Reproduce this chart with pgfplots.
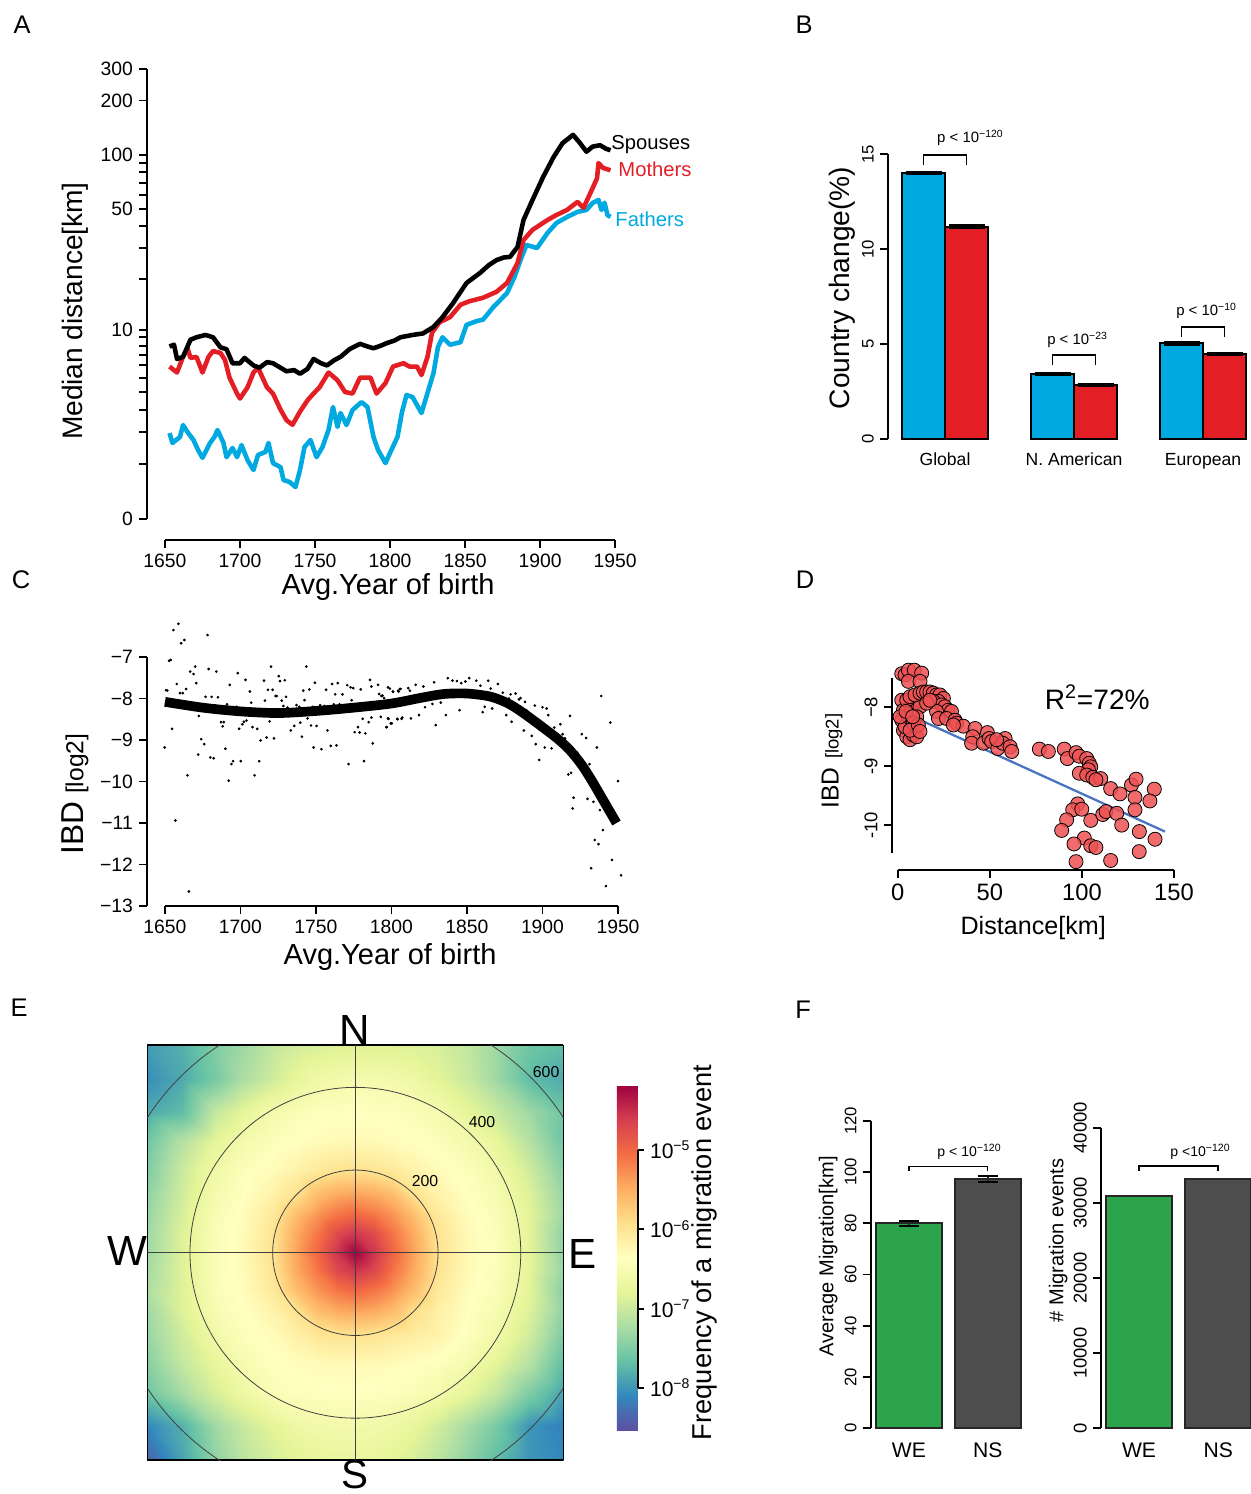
\documentclass[border=0pt]{standalone}
\usepackage{fontspec}
\setmainfont{Liberation Sans}
\usepackage{pgfplots}
\pgfplotsset{compat=1.18}

\definecolor{cblue}{HTML}{00A9E0}
\definecolor{cred}{HTML}{E31E24}
\definecolor{dred}{HTML}{EE5153}
\definecolor{lblue}{HTML}{4A74C0}
\definecolor{fgreen}{HTML}{2BA44B}
\definecolor{fgray}{HTML}{4D4D4D}

\newcommand{\fs}[1]{\fontsize{#1}{#1}\selectfont}

\pgfplotsset{
  rplot/.style={scale only axis, anchor=south west, clip=false,
    tick align=outside, axis line style={line width=1.3pt, -},
    tick style={black, line width=1.1pt}, major tick length=0.16cm,
    minor tick length=0.16cm,
    /pgf/number format/assume math mode=true,
    /pgf/number format/1000 sep={},
    axis x line*=bottom, axis y line*=left},
  colormap={spectral}{rgb255=(94,79,162) rgb255=(50,136,189) rgb255=(102,194,165)
    rgb255=(171,221,164) rgb255=(230,245,152) rgb255=(255,255,191) rgb255=(254,224,139)
    rgb255=(253,174,97) rgb255=(244,109,67) rgb255=(213,62,79) rgb255=(158,1,66)},
}

\begin{document}
\begin{tikzpicture}
\useasboundingbox (0,0) rectangle (25,-29.88);

% ---------------- A: median distance
\begin{axis}[rplot, at={(2.94cm,-10.8cm)}, width=9.36cm, height=9.428cm,
  xmin=1638, xmax=1950, ymin=-0.1156, ymax=2.4786,
  x axis line style={shorten <=0.36cm}, y axis line style={shorten <=0.42cm},
  xtick={1650,1700,...,1950},
  ytick={0,1.0414,1.7076,2.0043,2.3032,2.4786}, yticklabels={0,10,50,100,200,300},
  minor ytick={0.3010,0.4771,0.6021,0.6990,0.7782,0.8451,0.9031,0.9542,1.0,1.3222,1.4914,1.6128,1.7853,1.8513,1.9085,1.9590},
  tick label style={font=\fs{11}},
  every axis plot/.append style={line width=2.6pt, line join=round}]
\addplot[cblue] table[x=yr, y expr={log10(\thisrow{km}+1)}] {
yr km
1653 1.97
1655 1.62
1660 1.83
1662 2.29
1665 2.01
1669 1.72
1672 1.40
1675 1.17
1680 1.62
1683 1.83
1685 2.09
1689 1.62
1691 1.19
1695 1.46
1698 1.19
1701 1.55
1705 1.11
1709 0.86
1712 1.25
1717 1.34
1719 1.62
1722 1.03
1727 0.93
1729 0.64
1733 0.60
1737 0.50
1740 0.86
1743 1.49
1747 1.72
1751 1.19
1755 1.49
1759 2.09
1762 3.13
1765 2.21
1767 2.83
1771 2.29
1775 2.98
1781 3.40
1785 3.13
1789 1.83
1792 1.40
1797 1.03
1800 1.31
1805 1.83
1808 2.88
1811 3.81
1815 3.69
1821 2.83
1825 3.94
1829 5.36
1832 7.85
1835 9.0
1840 8.1
1847 8.4
1851 10.7
1858 11.3
1862 11.5
1869 13.7
1878 16.5
1883 20.5
1887 25.6
1891 31.2
1898 30.0
1905 36.5
1911 41.6
1918 44.9
1925 48.0
1931 49.2
1935 53.8
1939 56.0
1941 49.2
1943 54.0
1945 46.0
1947 45.0
};
\addplot[cred] table[x=yr, y expr={log10(\thisrow{km}+1)}] {
yr km
1653 5.9
1658 5.4
1662 6.8
1665 7.7
1667 6.7
1671 6.8
1675 5.4
1679 6.8
1682 7.4
1687 7.2
1690 6.5
1693 5.0
1698 3.9
1700 3.6
1705 4.3
1709 5.4
1712 5.8
1718 4.3
1722 3.9
1727 3.0
1731 2.5
1735 2.3
1740 2.9
1745 3.5
1749 3.9
1753 4.3
1759 5.4
1765 4.8
1770 4.0
1775 3.9
1780 5.0
1787 5.0
1791 3.9
1797 4.6
1802 5.9
1809 6.2
1813 5.9
1818 5.9
1821 5.2
1825 6.8
1828 9.6
1833 11.1
1840 11.9
1847 14.1
1853 14.8
1862 15.5
1871 16.8
1878 18.9
1885 24.6
1889 33.3
1895 38.0
1905 43.2
1911 46.1
1918 49.2
1925 54.6
1929 50.5
1935 65.0
1938 74.0
1939 90.0
1942 84.5
1947 82.0
};
\addplot[black] table[x=yr, y expr={log10(\thisrow{km}+1)}] {
yr km
1653 7.9
1656 8.1
1658 6.6
1662 6.8
1667 8.7
1671 9.0
1677 9.3
1682 9.0
1687 7.8
1691 7.6
1695 6.2
1700 6.2
1703 6.7
1709 6.0
1713 5.8
1718 6.3
1722 6.2
1727 5.8
1731 5.5
1736 5.6
1740 5.3
1745 5.7
1749 6.6
1754 6.2
1758 6.0
1763 6.5
1767 6.8
1773 7.6
1780 8.2
1785 7.9
1789 7.7
1794 8.0
1798 8.3
1803 8.6
1807 9.0
1815 9.3
1822 9.5
1829 10.4
1835 11.9
1842 14.4
1851 18.9
1860 21.6
1866 24.0
1871 25.6
1876 26.5
1880 26.7
1885 30.4
1889 43.2
1895 56
1902 75
1909 97
1915 116
1922 129
1926 118
1931 104
1935 111
1940 113
1944 108
1947 106
};
\end{axis}

% ---------------- B: country change
\begin{axis}[rplot, at={(17.76cm,-8.78cm)}, width=7.246cm, height=5.7cm,
  xmin=-0.326, xmax=8.1, ymin=0, ymax=15,
  x axis line style={draw=none}, xtick style={draw=none},
  xtick={1,4,7}, xticklabels={Global,N. American,European},
  xticklabel style={font=\fs{10}},
  ytick={0,5,10,15}, yticklabel style={font=\fs{9.5}, rotate=90, anchor=south}]
\addplot[ybar, bar width=1, bar shift=0pt, fill=cblue, draw=black, line width=0.9pt,
  error bars/.cd, y dir=both, y explicit, error mark=|,
  error bar style={line width=1.6pt}, error mark options={mark size=0.36cm, line width=1.8pt}]
  coordinates {(0.5,14.0) +- (0,0.04) (3.5,3.42) +- (0,0.04) (6.5,5.04) +- (0,0.04)};
\addplot[ybar, bar width=1, bar shift=0pt, fill=cred, draw=black, line width=0.9pt,
  error bars/.cd, y dir=both, y explicit, error mark=|,
  error bar style={line width=1.6pt}, error mark options={mark size=0.36cm, line width=1.8pt}]
  coordinates {(1.5,11.17) +- (0,0.04) (4.5,2.84) +- (0,0.04) (7.5,4.47) +- (0,0.04)};
\draw[line width=0.9pt] (axis cs:0.5,14.42) -- (axis cs:0.5,14.95) -- (axis cs:1.5,14.95) -- (axis cs:1.5,14.42);
\draw[line width=0.9pt] (axis cs:3.5,3.89) -- (axis cs:3.5,4.42) -- (axis cs:4.5,4.42) -- (axis cs:4.5,3.89);
\draw[line width=0.9pt] (axis cs:6.5,5.37) -- (axis cs:6.5,5.89) -- (axis cs:7.5,5.89) -- (axis cs:7.5,5.37);
\node[anchor=west, font=\fs{8.5}, inner sep=0pt] at (axis cs:0.81,15.85) {p < 10\textsuperscript{−120}};
\node[anchor=west, font=\fs{8.5}, inner sep=0pt] at (axis cs:3.37,5.2) {p < 10\textsuperscript{−23}};
\node[anchor=west, font=\fs{8.5}, inner sep=0pt] at (axis cs:6.37,6.75) {p < 10\textsuperscript{−10}};
\end{axis}

% ---------------- C: IBD over time
\begin{axis}[rplot, at={(2.94cm,-18.12cm)}, width=9.42cm, height=4.98cm,
  xmin=1638.1, xmax=1950, ymin=-13, ymax=-7,
  x axis line style={shorten <=0.36cm},
  xtick={1650,1700,...,1950}, ytick={-13,-12,...,-7},
  yticklabels={−13,−12,−11,−10,−9,−8,−7},
  tick label style={font=\fs{11}}]
\addplot[only marks, mark=*, mark size=0.55pt, black] coordinates {
(1658.9,-6.20) (1655.6,-6.35) (1678.2,-6.47) (1660.7,-6.67) (1662.9,-6.59) (1652.7,-7.09)
(1653.8,-7.07) (1666.7,-7.35) (1668.9,-7.41) (1670.0,-7.23) (1678.9,-7.29) (1684.0,-7.35)
(1698.2,-7.39) (1657.8,-7.65) (1660.0,-7.87) (1661.8,-7.87) (1664.0,-7.77) (1670.7,-7.63)
(1650.7,-7.80) (1651.6,-7.81) (1676.9,-7.96) (1680.9,-7.96) (1685.1,-7.97) (1692.9,-7.67)
(1703.3,-7.55) (1706.2,-7.83) (1707.1,-8.10) (1691.1,-8.14) (1697.3,-8.20) (1715.6,-7.57)
(1718.2,-7.79) (1721.3,-7.79) (1716.2,-8.05) (1720.2,-7.23) (1725.3,-7.46) (1726.2,-7.58)
(1729.3,-7.56) (1723.3,-7.94) (1724.0,-7.94) (1727.3,-8.05) (1730.2,-7.96) (1728.4,-8.18)
(1731.1,-8.22) (1743.6,-7.23) (1741.6,-7.81) (1745.6,-7.78) (1749.3,-7.62) (1742.4,-8.04)
(1737.1,-8.16) (1738.9,-8.20) (1744.4,-8.48) (1756.7,-7.79) (1760.7,-7.65) (1764.4,-7.63)
(1762.7,-7.90) (1767.6,-7.90) (1747.8,-8.20) (1752.7,-8.16) (1755.6,-8.18) (1761.8,-8.14)
(1765.6,-8.14) (1770.7,-7.68) (1772.9,-7.73) (1774.7,-7.75) (1779.6,-7.78) (1773.6,-8.04)
(1785.8,-7.55) (1786.7,-7.71) (1791.1,-7.67) (1791.8,-7.89) (1794.0,-7.93) (1795.1,-7.99)
(1798.9,-7.76) (1800.9,-7.83) (1804.7,-7.83) (1806.0,-7.77) (1672.4,-8.42) (1654.7,-8.73)
(1649.8,-9.18) (1674.0,-8.98) (1676.0,-9.10) (1687.1,-8.57) (1688.9,-8.57) (1688.2,-8.67)
(1672.0,-9.35) (1680.0,-9.42) (1682.2,-9.44) (1690.0,-9.21) (1699.1,-8.73) (1701.3,-8.62)
(1704.0,-8.53) (1702.2,-8.56) (1708.0,-8.69) (1711.1,-8.73) (1713.3,-9.01) (1717.3,-8.94)
(1719.3,-8.55) (1722.2,-8.96) (1694.0,-9.58) (1695.1,-9.51) (1700.2,-9.51) (1712.4,-9.51)
(1692.2,-9.98) (1709.3,-9.85) (1664.9,-9.85) (1656.9,-10.94) (1665.8,-12.65) (1733.3,-8.77)
(1735.6,-8.66) (1739.6,-8.58) (1740.7,-8.92) (1746.7,-8.65) (1750.4,-8.66) (1748.4,-9.18)
(1753.6,-9.22) (1757.6,-8.77) (1759.8,-9.14) (1763.6,-9.13) (1771.6,-9.58) (1775.6,-8.81)
(1777.8,-8.69) (1778.9,-8.82) (1782.7,-8.84) (1784.9,-8.57) (1787.6,-9.08) (1781.8,-9.51)
(1780.9,-8.49) (1786.7,-8.46) (1792.9,-8.44) (1796.9,-8.69) (1798.0,-8.49) (1800.2,-8.60)
(1803.8,-8.49) (1806.7,-8.49)
(1793.3,-7.94) (1797.7,-7.73) (1801.1,-7.84) (1804.4,-7.81) (1805.5,-7.77) (1811.1,-7.75)
(1812.2,-7.81) (1816.0,-7.67) (1821.1,-7.71) (1828.2,-7.61) (1837.3,-7.51) (1840.4,-7.57)
(1843.3,-7.58) (1846.2,-7.63) (1848.9,-7.59) (1851.5,-7.51) (1856.2,-7.57) (1858.9,-7.69)
(1864.0,-7.57) (1865.7,-7.76) (1870.4,-7.65) (1873.7,-7.86) (1878.9,-7.90) (1882.2,-7.88)
(1884.4,-8.02) (1885.5,-7.99) (1888.4,-8.08) (1877.8,-8.00) (1881.1,-8.12) (1797.7,-8.48)
(1804.0,-8.50) (1807.1,-8.46) (1812.9,-8.48) (1818.2,-8.40) (1822.2,-8.21) (1827.1,-8.13)
(1832.6,-8.10) (1836.0,-8.40) (1845.1,-8.28) (1796.6,-8.69) (1799.5,-8.60) (1829.3,-8.64)
(1860.4,-8.33) (1861.7,-8.20) (1866.6,-8.24) (1876.0,-8.40) (1879.5,-8.56) (1889.3,-8.28)
(1890.4,-8.32) (1894.9,-8.17) (1900.0,-8.21) (1902.7,-8.24) (1903.8,-8.40) (1907.8,-8.70)
(1904.4,-8.72) (1911.8,-8.62) (1913.3,-8.86) (1914.9,-8.96) (1918.2,-8.42) (1887.7,-8.77)
(1892.9,-8.90) (1895.5,-9.10) (1897.8,-9.48) (1901.5,-9.18) (1906.0,-9.20) (1922.2,-9.30)
(1922.9,-9.30) (1926.0,-8.86) (1928.9,-8.95) (1925.1,-9.52) (1931.1,-9.58) (1936.0,-9.18)
(1917.1,-9.83) (1918.9,-9.79) (1938.9,-7.94) (1944.9,-8.58) (1950.0,-9.99) (1920.6,-10.39)
(1920.0,-10.65) (1929.8,-10.42) (1933.7,-10.49) (1938.0,-10.69) (1940.0,-11.17) (1934.6,-11.41)
(1937.1,-11.51) (1932.2,-12.09) (1946.0,-11.89) (1942.0,-12.52) (1952.0,-12.26)
};
\addplot[black, line width=5.5pt, smooth] coordinates {
(1650,-8.08) (1675,-8.22) (1700,-8.31) (1725,-8.35) (1750,-8.30) (1775,-8.22) (1800,-8.12)
(1820,-7.98) (1835,-7.89) (1850,-7.88) (1865,-7.95) (1875,-8.08) (1882,-8.22) (1890,-8.42)
(1900,-8.69) (1910,-8.97) (1918,-9.24) (1926,-9.60) (1933,-10.00) (1941,-10.50) (1949,-11.00)
};
\end{axis}

% ---------------- D: IBD vs distance
\begin{axis}[rplot, at={(17.834cm,-17.4cm)}, width=5.646cm, height=3.834cm,
  xmin=-3.26, xmax=150, ymin=-10.762, ymax=-7.508,
  x axis line style={shorten <=0.12cm}, y axis line style={shorten <=0.334cm},
  xtick={0,50,100,150}, xticklabel style={font=\fs{13.5}},
  ytick={-10,-9,-8}, yticklabels={-10,-9,−8},
  yticklabel style={font=\fs{10.5}, rotate=90, anchor=south}]
\addplot[only marks, mark=*, mark size=4pt,
  mark options={fill=dred, fill opacity=0.85, draw=black, line width=0.45pt}] coordinates {
(2.2,-7.43) (4.0,-7.45) (5.8,-7.37) (9.0,-7.37) (13.0,-7.42) (5.8,-7.56) (12.1,-7.56)
(2.2,-7.88) (3.1,-8.05) (2.2,-8.22) (3.1,-8.39) (4.9,-8.50) (6.7,-8.55) (8.5,-8.47)
(10.3,-8.50) (4.0,-8.33) (5.8,-8.16) (7.6,-8.05) (9.4,-7.93) (11.2,-7.88) (12.1,-7.99)
(10.3,-8.16) (8.5,-8.27) (6.7,-8.39) (4.9,-7.88) (6.7,-7.82) (9.4,-7.79) (12.1,-7.76)
(1.3,-8.16) (11.2,-8.30) (12.1,-8.41) (4.5,-8.07) (8.1,-8.16)
(13.9,-7.74) (15.7,-7.74) (17.5,-7.74) (19.3,-7.76) (21.1,-7.79) (22.9,-7.79) (24.8,-7.85)
(22.1,-7.90) (19.3,-7.90) (23.8,-7.96) (25.6,-7.99) (27.4,-8.05) (29.2,-8.07) (21.1,-8.07)
(22.1,-8.19) (26.5,-8.19) (31.1,-8.22) (32.0,-8.27) (35.6,-8.32) (30.2,-8.30) (15.7,-7.93)
(17.5,-7.88)
(42.0,-8.36) (40.7,-8.50) (40.1,-8.61) (46.5,-8.61) (48.7,-8.43) (49.6,-8.53) (51.0,-8.58)
(54.3,-8.70) (58.3,-8.53) (57.0,-8.61) (61.0,-8.67) (61.9,-8.75) (53.7,-8.55)
(76.9,-8.71) (81.8,-8.75) (90.4,-8.71) (92.1,-8.87) (96.8,-8.77) (98.6,-8.83) (102.6,-8.87)
(104.0,-8.95) (104.8,-9.01) (103.5,-9.06) (98.6,-9.12) (102.6,-9.15) (105.9,-9.19)
(110.2,-9.21) (107.6,-9.23)
(126.9,-9.32) (129.4,-9.22) (115.6,-9.38) (120.7,-9.47) (139.3,-9.39) (136.9,-9.59)
(128.8,-9.53) (128.8,-9.74) (131.2,-10.11) (131.1,-10.45) (139.7,-10.24)
(97.7,-9.64) (95.0,-9.74) (99.9,-9.73) (91.7,-9.91) (89.0,-10.09) (104.8,-9.92) (111.3,-9.82)
(113.1,-9.77) (118.9,-9.80) (121.6,-10.00) (101.3,-10.22) (104.8,-10.35) (107.6,-10.38)
(95.7,-10.32) (96.8,-10.62) (115.6,-10.60)
};
\addplot[lblue, line width=1.3pt] coordinates {(1.3,-8.06) (145.1,-10.11)};
\end{axis}

% ---------------- E: migration heat map
\begin{axis}[at={(2.946cm,-29.2cm)}, anchor=south west, scale only axis,
  width=8.32cm, height=8.3cm, view={0}{90},
  xmin=-503, xmax=503, ymin=-503, ymax=503,
  xtick=\empty, ytick=\empty, ztick=\empty, axis line style={line width=0.9pt},
  colormap name=spectral, point meta min=-8.53, point meta max=-4.18,
  colorbar,
  colorbar style={at={(parent axis.south east)}, anchor=south west,
    xshift=0.77cm, yshift=0.6cm, scale only axis, width=0.42cm, height=6.9cm,
    axis line style={draw=none}, ytick={-8,-7,-6,-5}, ytick pos=right,
    yticklabels={10\textsuperscript{−8},10\textsuperscript{−7},10\textsuperscript{−6},10\textsuperscript{−5}},
    yticklabel style={font=\fs{12}}, tick align=outside, major tick length=0.12cm,
    ytick style={black, line width=1.1pt},
    after end axis/.code={\draw[line width=1.1pt] (rel axis cs:1,0.1218) -- (rel axis cs:1,0.8115);}}]
\addplot3[surf, shader=interp] coordinates {
(-503,-503,-8.40) (-420,-503,-7.90) (-340,-503,-7.40) (-270,-503,-7.10) (-200,-503,-6.90) (-140,-503,-6.80) (-90,-503,-6.75) (-45,-503,-6.72) (0,-503,-6.72) (45,-503,-6.75) (90,-503,-6.80) (140,-503,-6.90) (200,-503,-7.10) (270,-503,-7.40) (340,-503,-7.70) (420,-503,-8.00) (503,-503,-8.10)

(-503,-420,-8.10) (-420,-420,-7.80) (-340,-420,-7.30) (-270,-420,-7.00) (-200,-420,-6.80) (-140,-420,-6.65) (-90,-420,-6.60) (-45,-420,-6.58) (0,-420,-6.58) (45,-420,-6.60) (90,-420,-6.65) (140,-420,-6.75) (200,-420,-6.95) (270,-420,-7.25) (340,-420,-7.55) (420,-420,-8.00) (503,-420,-8.15)

(-503,-340,-7.60) (-420,-340,-7.25) (-340,-340,-6.90) (-270,-340,-6.65) (-200,-340,-6.45) (-140,-340,-6.40) (-90,-340,-6.38) (-45,-340,-6.37) (0,-340,-6.37) (45,-340,-6.38) (90,-340,-6.40) (140,-340,-6.45) (200,-340,-6.55) (270,-340,-6.76) (340,-340,-7.05) (420,-340,-7.50) (503,-340,-7.90)

(-503,-270,-7.45) (-420,-270,-7.05) (-340,-270,-6.75) (-270,-270,-6.52) (-200,-270,-6.38) (-140,-270,-6.33) (-90,-270,-6.30) (-45,-270,-6.28) (0,-270,-6.27) (45,-270,-6.28) (90,-270,-6.31) (140,-270,-6.35) (200,-270,-6.41) (270,-270,-6.56) (340,-270,-6.80) (420,-270,-7.15) (503,-270,-7.70)

(-503,-200,-7.35) (-420,-200,-6.95) (-340,-200,-6.60) (-270,-200,-6.41) (-200,-200,-6.30) (-140,-200,-6.15) (-90,-200,-6.00) (-45,-200,-5.98) (0,-200,-5.95) (45,-200,-5.98) (90,-200,-6.05) (140,-200,-6.10) (200,-200,-6.20) (270,-200,-6.38) (340,-200,-6.60) (420,-200,-6.95) (503,-200,-7.50)

(-503,-140,-7.30) (-420,-140,-6.85) (-340,-140,-6.50) (-270,-140,-6.35) (-200,-140,-6.18) (-140,-140,-5.93) (-90,-140,-5.60) (-45,-140,-5.45) (0,-140,-5.40) (45,-140,-5.45) (90,-140,-5.60) (140,-140,-5.90) (200,-140,-6.15) (270,-140,-6.35) (340,-140,-6.51) (420,-140,-6.85) (503,-140,-7.40)

(-503,-90,-7.20) (-420,-90,-6.85) (-340,-90,-6.46) (-270,-90,-6.31) (-200,-90,-6.05) (-140,-90,-5.60) (-90,-90,-5.30) (-45,-90,-5.10) (0,-90,-4.98) (45,-90,-5.10) (90,-90,-5.30) (140,-90,-5.60) (200,-90,-6.05) (270,-90,-6.31) (340,-90,-6.46) (420,-90,-6.80) (503,-90,-7.45)

(-503,-45,-7.25) (-420,-45,-6.85) (-340,-45,-6.45) (-270,-45,-6.29) (-200,-45,-5.98) (-140,-45,-5.45) (-90,-45,-5.10) (-45,-45,-4.72) (0,-45,-4.55) (45,-45,-4.72) (90,-45,-5.10) (140,-45,-5.45) (200,-45,-5.98) (270,-45,-6.28) (340,-45,-6.43) (420,-45,-6.80) (503,-45,-7.35)

(-503,0,-7.30) (-420,0,-6.85) (-340,0,-6.45) (-270,0,-6.28) (-200,0,-5.95) (-140,0,-5.40) (-90,0,-4.98) (-45,0,-4.55) (0,0,-4.20) (45,0,-4.55) (90,0,-4.98) (140,0,-5.40) (200,0,-5.95) (270,0,-6.27) (340,0,-6.42) (420,0,-6.80) (503,0,-7.40)

(-503,45,-7.30) (-420,45,-6.85) (-340,45,-6.45) (-270,45,-6.29) (-200,45,-5.98) (-140,45,-5.45) (-90,45,-5.10) (-45,45,-4.72) (0,45,-4.55) (45,45,-4.72) (90,45,-5.10) (140,45,-5.45) (200,45,-5.98) (270,45,-6.28) (340,45,-6.43) (420,45,-6.80) (503,45,-7.40)

(-503,90,-7.35) (-420,90,-6.90) (-340,90,-6.48) (-270,90,-6.31) (-200,90,-6.05) (-140,90,-5.60) (-90,90,-5.30) (-45,90,-5.10) (0,90,-4.98) (45,90,-5.10) (90,90,-5.30) (140,90,-5.60) (200,90,-6.05) (270,90,-6.31) (340,90,-6.46) (420,90,-6.80) (503,90,-7.30)

(-503,140,-7.40) (-420,140,-6.95) (-340,140,-6.55) (-270,140,-6.35) (-200,140,-6.18) (-140,140,-5.93) (-90,140,-5.60) (-45,140,-5.45) (0,140,-5.40) (45,140,-5.45) (90,140,-5.60) (140,140,-5.93) (200,140,-6.18) (270,140,-6.35) (340,140,-6.51) (420,140,-6.85) (503,140,-7.35)

(-503,200,-7.50) (-420,200,-7.00) (-340,200,-6.62) (-270,200,-6.41) (-200,200,-6.30) (-140,200,-6.18) (-90,200,-6.05) (-45,200,-5.98) (0,200,-5.95) (45,200,-5.98) (90,200,-6.05) (140,200,-6.18) (200,200,-6.30) (270,200,-6.41) (340,200,-6.60) (420,200,-6.95) (503,200,-7.45)

(-503,270,-7.60) (-420,270,-7.15) (-340,270,-6.78) (-270,270,-6.56) (-200,270,-6.41) (-140,270,-6.35) (-90,270,-6.31) (-45,270,-6.28) (0,270,-6.27) (45,270,-6.28) (90,270,-6.31) (140,270,-6.35) (200,270,-6.41) (270,270,-6.56) (340,270,-6.76) (420,270,-7.15) (503,270,-7.60)

(-503,340,-7.85) (-420,340,-7.70) (-340,340,-7.05) (-270,340,-6.76) (-200,340,-6.55) (-140,340,-6.45) (-90,340,-6.40) (-45,340,-6.38) (0,340,-6.37) (45,340,-6.38) (90,340,-6.40) (140,340,-6.45) (200,340,-6.55) (270,340,-6.76) (340,340,-7.00) (420,340,-7.30) (503,340,-7.60)

(-503,420,-8.05) (-420,420,-7.85) (-340,420,-7.55) (-270,420,-7.20) (-200,420,-6.95) (-140,420,-6.75) (-90,420,-6.62) (-45,420,-6.58) (0,420,-6.55) (45,420,-6.55) (90,420,-6.58) (140,420,-6.65) (200,420,-6.80) (270,420,-7.00) (340,420,-7.30) (420,420,-7.70) (503,420,-7.85)

(-503,503,-7.95) (-420,503,-7.80) (-340,503,-7.50) (-270,503,-7.30) (-200,503,-7.05) (-140,503,-6.95) (-90,503,-6.90) (-45,503,-6.85) (0,503,-6.85) (45,503,-6.85) (90,503,-6.85) (140,503,-6.85) (200,503,-6.90) (270,503,-7.05) (340,503,-7.30) (420,503,-7.60) (503,503,-7.70)
};
\end{axis}

% ---------------- F: average migration
\begin{axis}[rplot, at={(17.414cm,-28.566cm)}, width=3.036cm, height=6.152cm,
  xmin=0.119, xmax=2.43, ymin=0, ymax=120,
  x axis line style={draw=none}, xtick style={draw=none},
  xtick={0.7,1.9}, xticklabels={WE,NS}, xticklabel style={font=\fs{12}},
  ytick={0,20,...,120}, yticklabel style={font=\fs{9.5}, rotate=90, anchor=south}]
\addplot[ybar, bar width=1, bar shift=0pt, fill=fgreen, draw=black!85, line width=1.1pt,
  error bars/.cd, y dir=both, y explicit, error mark=|,
  error bar style={line width=1pt}, error mark options={mark size=0.2cm, line width=1pt}]
  coordinates {(0.7,80.0) +- (0,1.0)};
\addplot[ybar, bar width=1, bar shift=0pt, fill=fgray, draw=black!85, line width=1.1pt,
  error bars/.cd, y dir=both, y explicit, error mark=|,
  error bar style={line width=1pt}, error mark options={mark size=0.2cm, line width=1pt}]
  coordinates {(1.9,97.3) +- (0,1.2)};
\draw[line width=0.9pt] (axis cs:0.7,100.4) -- (axis cs:0.7,102.1) -- (axis cs:1.9,102.1) -- (axis cs:1.9,100.4);
\node[anchor=west, font=\fs{8}, inner sep=0pt] at (axis cs:1.13,107.8) {p < 10\textsuperscript{−120}};
\end{axis}

% ---------------- F: number of migration events
\begin{axis}[rplot, at={(22.02cm,-28.566cm)}, width=2.99cm, height=6.012cm,
  xmin=0.124, xmax=2.39, ymin=0, ymax=40000, scaled y ticks=false,
  x axis line style={draw=none}, xtick style={draw=none},
  xtick={0.7,1.9}, xticklabels={WE,NS}, xticklabel style={font=\fs{12}},
  ytick={0,10000,...,40000}, yticklabel style={font=\fs{10.5}, rotate=90, anchor=south}]
\addplot[ybar, bar width=1, bar shift=0pt, fill=fgreen, draw=black!85, line width=1.1pt]
  coordinates {(0.7,30900)};
\addplot[ybar, bar width=1, bar shift=0pt, fill=fgray, draw=black!85, line width=1.1pt]
  coordinates {(1.9,33170)};
\draw[line width=0.9pt] (axis cs:0.7,34239) -- (axis cs:0.7,34944) -- (axis cs:1.9,34944) -- (axis cs:1.9,34239);
\node[anchor=west, font=\fs{8}, inner sep=0pt] at (axis cs:1.17,36767) {p <10\textsuperscript{−120}};
\end{axis}

% ---------------- circles over the heat map
\begin{scope}[x=0.02cm, y=-0.02cm]
  \clip (147.3,1045) rectangle (563.3,1460);
  \draw[black!75, line width=0.45pt] (147.3,1252.5) -- (563.3,1252.5);
  \draw[black!75, line width=0.45pt] (355.3,1045) -- (355.3,1460);
  \draw[black!75, line width=0.45pt] (355.3,1252.5) circle[radius=1.654cm];
  \draw[black!75, line width=0.45pt] (355.3,1252.5) circle[radius=3.308cm];
  \draw[black!75, line width=0.45pt] (355.3,1252.5) circle[radius=4.962cm];
\end{scope}

% ---------------- texts
\begin{scope}[x=0.02cm, y=-0.02cm]
  \node[font=\fs{14.5}] at (22,25) {A};
  \node[font=\fs{14.5}] at (804,25) {B};
  \node[font=\fs{14.5}] at (21,580) {C};
  \node[font=\fs{14.5}] at (805,580) {D};
  \node[font=\fs{14.5}] at (19,1008) {E};
  \node[font=\fs{14.5}] at (803,1010) {F};

  \node[rotate=90, font=\fs{16}] at (75,311) {Median distance[km]};
  \node[font=\fs{16.5}] at (388,587) {Avg.Year of birth};
  \node[anchor=west, font=\fs{11.5}, inner sep=0pt] at (611,145) {Spouses};
  \node[anchor=west, font=\fs{11.5}, inner sep=0pt, text=cred] at (618,169) {Mothers};
  \node[anchor=west, font=\fs{11.5}, inner sep=0pt, text=cblue] at (615,219) {Fathers};

  \node[rotate=90, font=\fs{16}] at (842,288) {Country change(\%)};

  \node[rotate=90] at (75,794) {{\fs{18}IBD}\hspace{0.45em}{\fs{14}[log2]}};
  \node[font=\fs{16.5}] at (390,957) {Avg.Year of birth};

  \node[rotate=90] at (832,761) {{\fs{14}IBD}\hspace{0.5em}{\fs{10.5}[log2]}};
  \node[font=\fs{14.3}] at (1033,928) {Distance[km]};
  \node[font=\fs{16}] at (1097,697) {R\textsuperscript{2}=72\%};

  \node[font=\fs{24}] at (355,1030) {N};
  \node[font=\fs{23}] at (355,1474) {S};
  \node[font=\fs{24}] at (127,1251) {W};
  \node[font=\fs{24}] at (582,1254) {E};
  \node[font=\fs{9}] at (425,1181) {200};
  \node[font=\fs{9}] at (482,1122) {400};
  \node[font=\fs{9}] at (546,1072) {600};
  \node[rotate=90, font=\fs{15.5}] at (704,1252) {Frequency of a migration event};

  \node[rotate=90, font=\fs{11.4}] at (828,1256) {Average Migration[km]};
  \node[rotate=90, font=\fs{11.4}] at (1058,1240) {\# Migration events};
\end{scope}
\end{tikzpicture}
\end{document}
